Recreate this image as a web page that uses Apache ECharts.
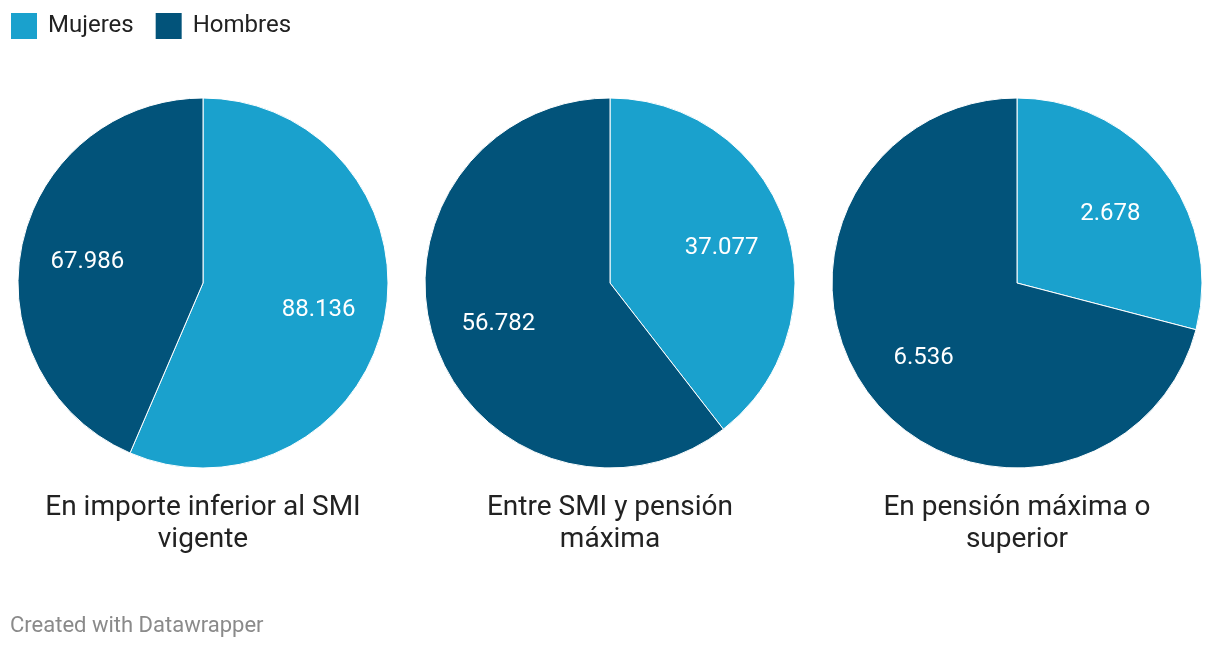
<!DOCTYPE html>
<html><head><meta charset="utf-8">
<script src="https://cdn.jsdelivr.net/npm/echarts@6/dist/echarts.min.js"></script>
<style>html,body{margin:0;padding:0;background:#fff}#c{width:1220px;height:648px}</style>
</head><body><div id="c"></div>
<script>
const categories = ['Mujeres', 'Hombres'];
const groups = ['En importe inferior al SMI\nvigente', 'Entre SMI y pensión\nmáxima', 'En pensión máxima o\nsuperior'];
const mujeres = [88136, 37077, 2678];
const hombres = [67986, 56782, 6536];
const colors = ['#1aa1cd', '#02537a'];
const centersX = [203, 610, 1017];
const CY = 283, R = 185;

const fmt = v => String(Math.round(v)).replace(/\B(?=(\d{3})+(?!\d))/g, '.');
const series = [];
const titles = [];
groups.forEach((g, i) => {
  const data = [
    { name: categories[0], value: mujeres[i] },
    { name: categories[1], value: hombres[i] }
  ];
  series.push({
    type: 'pie', center: [centersX[i], CY], radius: [0, R],
    startAngle: 90, clockwise: true, silent: true, animation: false,
    itemStyle: { borderColor: '#fff', borderWidth: 1 },
    label: { show: false }, labelLine: { show: false },
    color: colors, data
  });
  series.push({
    type: 'pie', center: [centersX[i], CY], radius: [45, R],
    startAngle: 90, clockwise: true, silent: true, animation: false,
    itemStyle: { color: 'transparent', borderWidth: 0 },
    label: { show: true, position: 'inside', color: '#fff', fontFamily: 'Roboto', fontSize: 24,
      offset: [0, 3], formatter: p => fmt(p.value) },
    labelLine: { show: false },
    legendHoverLink: false,
    data: data.map(d => ({ name: d.name + ' ', value: d.value }))
  });
  titles.push({
    text: g, left: centersX[i] - 5, top: 487, textAlign: 'center',
    textStyle: { fontFamily: 'Roboto', fontSize: 28, fontWeight: 'normal', color: '#222', lineHeight: 32 }
  });
});
titles.push({
  text: 'Created with Datawrapper', left: 5, top: 610,
  textStyle: { fontFamily: 'Roboto', fontSize: 22, fontWeight: 'normal', color: '#8a8a8a' }
});

const chart = echarts.init(document.getElementById('c'));
chart.setOption({
  animation: false,
  color: colors,
  title: titles,
  legend: {
    data: categories, left: 4, top: 6, icon: 'rect', itemWidth: 28, itemHeight: 28,
    itemGap: 20, selectedMode: false,
    textStyle: { fontFamily: 'Roboto', fontSize: 24, color: '#222', padding: [0, 0, 0, 5] }
  },
  series
});
</script></body></html>
